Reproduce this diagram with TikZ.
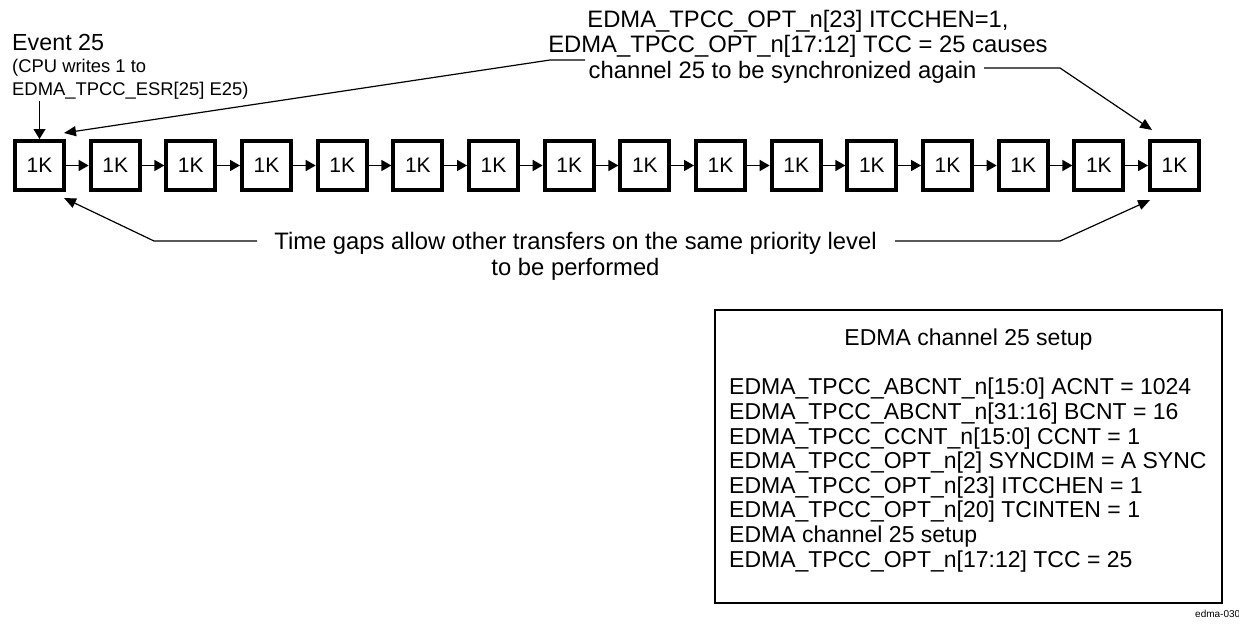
\documentclass[tikz,border=0pt]{standalone}
\usepackage{fontspec}
\setmainfont{Liberation Sans}
\usepackage{tikz}
\usetikzlibrary{positioning, arrows.meta, calc}

\tikzset{
  blk/.style={draw, line width=4pt, minimum size=49pt, inner sep=0pt, font=\fontsize{21}{22}\selectfont},
  nxt/.style={-{Triangle[length=10pt,width=11pt]}, line width=1.6pt},
  lead/.style={-{Triangle[length=12pt,width=10pt]}, line width=1.2pt},
  big/.style={inner sep=0pt, font=\fontsize{23.8}{25.5}\selectfont},
}

\begin{document}
\begin{tikzpicture}[x=1pt, y=-1pt, node distance=75.67pt, on grid]
    \useasboundingbox (0,0) rectangle (1239,624);

    % chain of 1K transfers
    \node[blk] (b1) at (39.5,165.5) {1K};
    \foreach \i [remember=\i as \j (initially 1)] in {2,...,16}
        \node[blk, right=of b\j] (b\i) {1K};
    \foreach \i [remember=\i as \j (initially 1)] in {2,...,16}
        \draw[nxt] (b\j) -- (b\i);

    % event trigger (base = last line)
    \node[inner sep=0pt, anchor=base west, font=\fontsize{23.3}{25}\selectfont] (ev) at (12,50) {Event 25};
    \node[inner sep=0pt, anchor=base west, align=left, font=\fontsize{18.4}{22.5}\selectfont] (evnote) at (12,95)
        {(CPU writes 1 to\\EDMA\_TPCC\_ESR[25] E25)};
    \coordinate (evtail) at (b1.north |- 0,101);
    \draw[line width=1.2pt, -{Triangle[length=10pt,width=12pt]}] (evtail) -- (b1.north);

    % chaining note
    \node[big, anchor=base, align=center] (sync) at (798,78)
        {EDMA\_TPCC\_OPT\_n[23] ITCCHEN=1,\\
         EDMA\_TPCC\_OPT\_n[17:12] TCC = 25 causes\\
         channel 25 to be synchronized again\hspace*{31pt}};
    \coordinate (sl0) at (585,60);
    \coordinate (sl1) at (550,60);
    \coordinate (sr0) at (984,68);
    \coordinate (sr1) at (1060,68);
    \draw[lead] (sl0) -- (sl1) -- ([shift={(-2,-6)}]b1.north east);
    \draw[lead] (sr0) -- (sr1) -- ([shift={(4,-9)}]b16.north west);

    % time gap note
    \node[big, anchor=base, align=center] (gap) at (575.5,275)
        {Time gaps allow other transfers on the same priority level\\to be performed};
    \coordinate (gl0) at (257,241);
    \coordinate (gl1) at (154,241);
    \coordinate (gr0) at (895,241);
    \coordinate (gr1) at (1060,241);
    \draw[lead] (gl0) -- (gl1) -- ([shift={(-2,6)}]b1.south east);
    \draw[lead] (gr0) -- (gr1) -- ([shift={(2,8)}]b16.south west);

    % channel setup box
    \draw[line width=1.2pt] (715,310) rectangle (1222,603);
    \node[inner sep=0pt, anchor=base, font=\fontsize{23}{24.6}\selectfont] (setup) at (968.5,345) {EDMA channel 25 setup};
    \node[inner sep=0pt, anchor=base west, align=left, font=\fontsize{23}{24.6}\selectfont] (params) at (729,567)
        {EDMA\_TPCC\_ABCNT\_n[15:0] ACNT = 1024\\
         EDMA\_TPCC\_ABCNT\_n[31:16] BCNT = 16\\
         EDMA\_TPCC\_CCNT\_n[15:0] CCNT = 1\\
         EDMA\_TPCC\_OPT\_n[2] SYNCDIM = A SYNC\\
         EDMA\_TPCC\_OPT\_n[23] ITCCHEN = 1\\
         EDMA\_TPCC\_OPT\_n[20] TCINTEN = 1\\
         EDMA channel 25 setup\\
         EDMA\_TPCC\_OPT\_n[17:12] TCC = 25};
    \node[inner sep=0pt, anchor=base west, font=\fontsize{10}{11}\selectfont] (fig) at (1195,617) {edma-030};
\end{tikzpicture}
\end{document}
